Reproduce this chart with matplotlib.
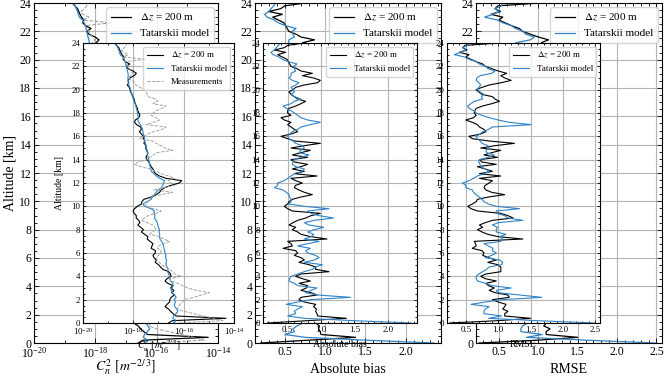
import numpy as np
import matplotlib
matplotlib.use("Agg")
import matplotlib.pyplot as plt
from matplotlib.ticker import MultipleLocator, AutoMinorLocator, FixedLocator, NullFormatter

plt.rcParams["font.family"] = ["Liberation Serif", "DejaVu Serif"]
plt.rcParams["mathtext.fontset"] = "stix"

# ===== DATA (altitude grid 0 .. 24 km, 200 m step) =====
altitude = np.round(np.arange(0, 24.01, 0.2), 1)

# log10 of Cn2 profiles
cn2_dz_log = [
    -16.60, -16.45, -14.32, -16.30, -16.42, -16.52, -16.60, -16.74, -16.66, -16.56,
    -16.55, -16.50, -16.37, -16.47, -16.39, -16.52, -16.43, -16.63, -16.74, -16.66,
    -16.50, -16.52, -16.60, -16.83, -16.92, -17.00, -17.13, -17.09, -17.18, -17.22,
    -17.13, -17.12, -17.29, -17.26, -17.22, -17.34, -17.45, -17.42, -17.55, -17.68,
    -17.60, -17.71, -17.82, -17.74, -17.79, -17.89, -17.88, -17.97, -18.01, -17.95,
    -17.84, -17.68, -17.66, -17.58, -17.29, -17.09, -16.96, -16.89, -16.76, -16.50,
    -16.17, -16.08, -16.70, -16.96, -17.12, -17.18, -17.22, -17.29, -17.34, -17.38,
    -17.46, -17.50, -17.45, -17.42, -17.47, -17.51, -17.49, -17.58, -17.55, -17.60,
    -17.60, -17.68, -17.76, -17.68, -17.71, -17.87, -17.95, -17.92, -17.78, -17.74,
    -17.78, -17.82, -17.84, -17.88, -17.92, -17.95, -17.97, -18.03, -18.05, -18.11,
    -18.13, -18.16, -18.24, -18.18, -18.21, -18.14, -17.97, -17.88, -18.01, -18.21,
    -18.28, -18.14, -18.32, -18.41, -18.37, -18.45, -18.50, -18.54, -18.58, -18.67,
    -18.74,
]
cn2_tat_log = [
    -16.40, -16.30, -16.43, -16.40, -16.30, -16.23, -16.28, -16.35, -16.37, -16.33,
    -16.38, -16.30, -16.36, -16.45, -16.50, -16.46, -16.42, -16.43, -16.52, -16.55,
    -16.56, -16.60, -16.63, -16.62, -16.66, -16.70, -16.70, -16.68, -16.72, -16.70,
    -16.74, -16.76, -16.78, -16.80, -16.83, -16.88, -16.94, -16.96, -16.95, -16.98,
    -16.96, -17.00, -17.03, -17.05, -17.10, -17.16, -17.14, -17.18, -17.16, -17.30,
    -17.55, -17.62, -17.45, -17.29, -17.25, -17.16, -17.10, -17.00, -16.88, -16.83,
    -16.80, -16.76, -16.95, -17.09, -17.18, -17.29, -17.30, -17.33, -17.35, -17.37,
    -17.39, -17.41, -17.43, -17.44, -17.45, -17.48, -17.50, -17.52, -17.55, -17.55,
    -17.57, -17.60, -17.62, -17.63, -17.68, -17.72, -17.78, -17.82, -17.80, -17.82,
    -17.84, -17.85, -17.88, -17.90, -17.93, -17.97, -18.00, -18.03, -18.06, -18.09,
    -18.11, -18.14, -18.18, -18.20, -18.21, -18.22, -18.20, -18.21, -18.24, -18.26,
    -18.28, -18.30, -18.33, -18.36, -18.42, -18.52, -18.55, -18.58, -18.62, -18.66,
    -18.71,
]
cn2_meas_log = [
    -16.20, -14.45, -14.80, -15.20, -15.60, -16.00, -16.25, -16.20, -16.15, -16.05,
    -15.97, -15.60, -15.30, -14.98, -15.50, -15.84, -16.05, -16.23, -16.50, -16.55,
    -16.10, -16.35, -16.45, -16.56, -16.70, -16.90, -16.96, -17.05, -17.09, -17.00,
    -16.92, -16.89, -17.05, -17.00, -16.80, -16.56, -16.80, -16.95, -17.35, -17.25,
    -17.09, -17.15, -17.22, -17.45, -17.68, -17.55, -17.42, -17.10, -16.89, -17.20,
    -17.55, -17.48, -17.42, -17.35, -17.29, -16.90, -16.43, -17.16, -16.80, -16.37,
    -16.50, -16.63, -16.37, -16.60, -16.89, -17.10, -17.35, -17.70, -17.95, -17.82,
    -17.45, -17.35, -17.20, -17.09, -16.43, -16.75, -16.89, -17.10, -17.22, -17.75,
    -17.60, -17.42, -17.20, -16.85, -16.70, -17.49, -17.20, -16.96, -17.10, -17.29,
    -17.20, -17.09, -16.85, -16.70, -17.22, -17.03, -17.10, -17.42, -17.45, -17.50,
    -17.55, -17.75, -17.90, -17.95, -18.05, -18.21, -18.10, -18.01, -18.10, -18.15,
    -18.21, -18.30, -18.34, -17.49, -18.40, -18.21, -18.40, -18.47, -18.35, -18.28,
    -18.28,
]

# absolute bias
bias_dz = [
    0.20, 0.80, 1.38, 0.95, 0.94, 0.92, 0.93, 0.89, 0.92, 0.75,
    0.67, 0.70, 0.94, 0.85, 0.70, 0.78, 0.80, 0.67, 0.84, 0.72,
    0.62, 0.70, 1.12, 0.92, 0.92, 0.82, 0.67, 0.75, 0.70, 0.60,
    0.65, 0.62, 0.43, 0.57, 0.55, 0.50, 1.09, 0.85, 0.70, 0.65,
    0.57, 0.62, 0.52, 0.58, 0.65, 0.77, 0.85, 0.99, 0.57, 0.50,
    0.45, 0.50, 0.52, 0.57, 0.70, 0.87, 0.75, 0.67, 0.60, 0.62,
    0.72, 0.62, 0.55, 0.94, 0.60, 0.75, 0.57, 0.70, 0.80, 0.60,
    0.55, 0.80, 0.57, 0.70, 0.84, 0.55, 0.75, 0.99, 0.60, 0.50,
    0.40, 0.55, 0.65, 0.60, 0.55, 0.50, 0.55, 0.45, 0.40, 0.55,
    0.50, 0.50, 0.52, 0.62, 0.70, 0.77, 0.65, 0.60, 0.55, 0.52,
    0.58, 0.62, 0.75, 0.95, 0.99, 0.89, 0.72, 0.87, 0.70, 0.64,
    0.55, 0.53, 0.51, 0.49, 0.42, 0.35, 0.47, 0.30, 0.45, 0.50,
    0.75,
]
bias_tat = [
    2.35, 1.50, 0.75, 0.50, 0.62, 0.60, 0.65, 0.72, 0.48, 0.65,
    0.84, 1.44, 0.95, 0.77, 0.85, 0.94, 0.65, 0.60, 0.52, 0.53,
    0.55, 0.65, 0.75, 0.87, 0.92, 1.02, 0.75, 0.90, 0.97, 0.92,
    0.80, 0.77, 0.84, 0.65, 0.80, 0.97, 0.75, 0.85, 0.89, 0.80,
    0.90, 1.04, 0.82, 0.75, 0.90, 1.19, 0.97, 0.85, 0.80, 1.12,
    0.75, 0.52, 0.55, 0.55, 0.53, 0.52, 0.48, 0.43, 0.30, 0.35,
    0.35, 0.45, 0.50, 0.55, 0.60, 0.72, 0.75, 0.62, 0.57, 0.58,
    0.60, 0.70, 0.82, 0.67, 0.70, 0.75, 0.72, 0.62, 0.58, 0.52,
    0.50, 0.53, 0.57, 0.65, 0.70, 0.84, 0.99, 0.80, 0.70, 0.65,
    0.60, 0.55, 0.48, 0.43, 0.55, 0.60, 0.70, 0.60, 0.55, 0.60,
    0.58, 0.55, 0.62, 0.67, 0.57, 0.52, 0.55, 0.55, 0.62, 0.60,
    0.59, 0.64, 0.51, 0.42, 0.37, 0.28, 0.25, 0.30, 0.33, 0.36,
    0.39,
]

# RMSE
rmse_dz = [
    0.25, 1.00, 1.50, 1.10, 1.10, 1.15, 1.07, 1.10, 1.12, 1.00,
    0.91, 1.17, 1.15, 0.95, 0.86, 0.94, 0.85, 0.81, 0.97, 0.80,
    0.73, 0.81, 1.04, 1.04, 1.04, 0.99, 0.84, 0.97, 0.85, 0.76,
    0.78, 0.75, 0.60, 0.66, 0.65, 0.63, 1.38, 1.00, 0.84, 0.75,
    0.68, 0.76, 0.71, 0.80, 0.91, 1.23, 1.15, 1.04, 0.68, 0.58,
    0.53, 0.60, 0.66, 0.68, 0.85, 1.10, 0.90, 0.81, 0.78, 0.80,
    0.86, 0.91, 0.71, 1.04, 0.71, 0.91, 0.80, 0.68, 0.97, 0.75,
    0.71, 0.99, 0.78, 0.90, 1.04, 0.73, 0.95, 1.25, 0.86, 0.60,
    0.55, 0.73, 0.81, 0.78, 0.71, 0.68, 0.60, 0.50, 0.62, 0.66,
    0.63, 0.64, 0.66, 0.76, 0.90, 1.02, 0.95, 0.91, 0.75, 0.70,
    0.66, 0.75, 0.86, 1.05, 1.20, 1.10, 1.04, 1.13, 1.00, 0.90,
    0.80, 0.76, 0.66, 0.58, 0.50, 0.55, 0.40, 0.52, 0.45, 0.49,
    1.01,
]
rmse_tat = [
    2.48, 1.60, 0.85, 1.05, 0.78, 0.78, 0.80, 0.86, 0.58, 0.80,
    1.07, 1.67, 1.33, 1.00, 0.97, 1.20, 0.91, 0.80, 0.68, 0.66,
    0.66, 0.70, 0.76, 0.82, 0.86, 1.05, 1.07, 1.02, 0.80, 0.90,
    0.97, 0.91, 0.92, 0.85, 0.78, 1.04, 1.07, 1.02, 1.12, 0.97,
    0.97, 0.99, 0.91, 1.00, 1.38, 1.15, 1.10, 0.97, 0.97, 1.33,
    0.97, 0.85, 0.78, 0.75, 0.71, 0.66, 0.62, 0.60, 0.50, 0.50,
    0.45, 0.55, 0.62, 0.68, 0.78, 0.86, 0.80, 0.73, 0.72, 0.70,
    0.71, 0.85, 0.94, 0.82, 0.81, 0.86, 0.84, 0.75, 0.72, 0.68,
    0.66, 0.72, 0.76, 0.85, 0.91, 1.51, 1.17, 1.00, 0.86, 0.75,
    0.66, 0.62, 0.55, 0.53, 0.58, 0.63, 0.76, 0.74, 0.78, 0.72,
    0.68, 0.70, 0.73, 0.70, 0.66, 0.67, 0.72, 0.90, 0.95, 0.84,
    0.81, 0.71, 0.66, 0.55, 0.48, 0.32, 0.42, 0.50, 0.45, 0.53,
    0.55,
]

label_dz = r"$\Delta z$ = 200 m"
label_tat = "Tatarskii model"
label_meas = "Measurements"

BLUE = "#2f83c6"
W, H = 665, 379


def px_rect(left, right, top, bottom):
    return [left / W, (H - bottom) / H, (right - left) / W, (bottom - top) / H]


def style_axis(ax, tick_fs, major_len, minor_len):
    ax.set_ylim(0, 24)
    ax.yaxis.set_major_locator(MultipleLocator(2))
    ax.yaxis.set_minor_locator(AutoMinorLocator(4))
    ax.tick_params(which="both", direction="in", top=True, right=True,
                   labelsize=tick_fs, width=0.6, pad=2)
    ax.tick_params(which="major", length=major_len)
    ax.tick_params(which="minor", length=minor_len)
    ax.grid(True, which="major", color="#b4b4b4", linewidth=0.8)
    ax.set_axisbelow(True)


def draw_row(rects, tick_fs, label_fs, legend_fs, lw, major_len, minor_len, lab_y, ylab_x):
    fig_axes = [fig.add_axes(r) for r in rects]
    ax1, ax2, ax3 = fig_axes

    # ===== Cn2 profiles =====
    ax1.plot(10.0 ** np.array(cn2_dz_log), altitude, color="black", lw=lw, label=label_dz)
    ax1.plot(10.0 ** np.array(cn2_tat_log), altitude, color=BLUE, lw=lw, label=label_tat)
    ax1.plot(10.0 ** np.array(cn2_meas_log), altitude, color="#9a9a9a", lw=lw * 0.8,
             ls="--", label=label_meas)
    ax1.set_xscale("log")
    ax1.set_xlim(1e-20, 1e-14)
    ax1.xaxis.set_major_locator(FixedLocator([1e-20, 1e-18, 1e-16, 1e-14]))
    ax1.xaxis.set_minor_locator(FixedLocator([1e-19, 1e-17, 1e-15]))
    ax1.xaxis.set_minor_formatter(NullFormatter())
    ax1.set_xlabel(r"$C_n^2\ [m^{-2/\,3}]$", fontsize=label_fs)
    ax1.xaxis.set_label_coords(0.5, lab_y[0])
    ax1.set_ylabel("Altitude [km]", fontsize=label_fs)
    ax1.yaxis.set_label_coords(ylab_x, 0.5)

    # ===== absolute bias =====
    ax2.plot(bias_dz, altitude, color="black", lw=lw, label=label_dz)
    ax2.plot(bias_tat, altitude, color=BLUE, lw=lw, label=label_tat)
    ax2.set_xlim(0.13, 2.44)
    ax2.set_xlabel("Absolute bias", fontsize=label_fs)

    # ===== RMSE =====
    ax3.plot(rmse_dz, altitude, color="black", lw=lw, label=label_dz)
    ax3.plot(rmse_tat, altitude, color=BLUE, lw=lw, label=label_tat)
    ax3.set_xlim(0.21, 2.57)
    ax3.set_xlabel("RMSE", fontsize=label_fs)

    for ax in (ax2, ax3):
        ax.xaxis.set_major_locator(MultipleLocator(0.5))
        ax.xaxis.set_minor_locator(AutoMinorLocator(5))
        ax.xaxis.set_label_coords(0.5, lab_y[1])

    for ax in fig_axes:
        style_axis(ax, tick_fs, major_len, minor_len)
        ax.legend(loc="upper right", fontsize=legend_fs, handlelength=1.8,
                  borderaxespad=0.4)
    return fig_axes


fig = plt.figure(figsize=(W / 100, H / 100), dpi=100)

# outer copy of the panels
draw_row(
    [px_rect(34, 218, 3, 343), px_rect(255, 441, 3, 343), px_rect(476, 662, 3, 343)],
    tick_fs=8.5, label_fs=10, legend_fs=8, lw=0.9, major_len=3.5, minor_len=2.0,
    lab_y=(-0.044, -0.058), ylab_x=-0.095,
)

# smaller copy drawn on top
draw_row(
    [px_rect(83, 234, 43, 323), px_rect(263, 417, 43, 323), px_rect(447, 600, 43, 323)],
    tick_fs=6.3, label_fs=7, legend_fs=6.5, lw=0.8, major_len=2.5, minor_len=1.3,
    lab_y=(-0.055, -0.062), ylab_x=-0.125,
)

fig.savefig("out.png", dpi=100)
